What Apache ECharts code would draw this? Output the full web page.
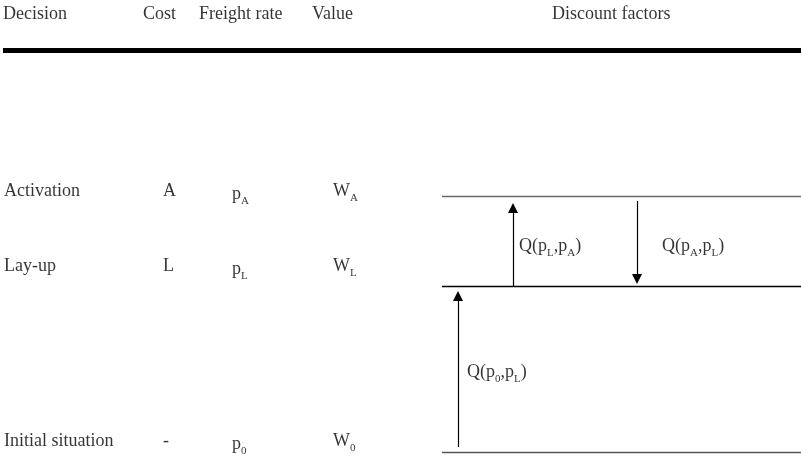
<!DOCTYPE html>
<html><head><meta charset="utf-8">
<script src="https://cdn.jsdelivr.net/npm/echarts@6/dist/echarts.min.js"></script>
<style>html,body{margin:0;padding:0;background:#fff}#c{width:801px;height:463px}</style>
</head><body><div id="c"></div>
<script>
// ---- data ----
const headers = ['Decision', 'Cost', 'Freight rate', 'Value', 'Discount factors'];
const decisions = ['Activation', 'Lay-up', 'Initial situation'];
const costs = ['A', 'L', '-'];
const rateSubs = ['A', 'L', '0'];     // p with subscript
const valueSubs = ['A', 'L', '0'];    // W with subscript
// discount factors: Q(p_from, p_to)
const factorFrom = ['L', 'A', '0'];
const factorTo = ['A', 'L', 'L'];

// ---- layout (positions in canvas units) ----
const FONT = '"Liberation Serif", "Times New Roman", serif';
const headerX = [3, 143, 199, 312, 552];
const headerY = 16;
const colX = [4, 163, 232, 333];
const rowY = [193, 268, 443];
const levelY = [196, 286, 452];
const levelX0 = 442, levelX1 = 801;
const levelColors = ['#6b6b6b', '#000', '#555'];
const arrowX = [513, 637, 458];
// arrow start / end (tip) in canvas units
const arrowStart = [286, 201, 447];
const arrowTip = [203, 284, 291];
const factorLabelPos = [[519, 248], [662, 248], [467, 374]];

const rich = {
  n: { fontFamily: FONT, fontSize: 18, color: '#000', lineHeight: 22, verticalAlign: 'top' },
  s: { fontFamily: FONT, fontSize: 11, color: '#000', lineHeight: 8, verticalAlign: 'bottom' }
};
const sub = (b, s) => `{n|${b}}{s|${s}}`;

const textItems = [];
headers.forEach((h, i) => textItems.push({ value: [headerX[i], headerY], t: `{n|${h}}` }));
decisions.forEach((d, i) => {
  textItems.push({ value: [colX[0], rowY[i]], t: `{n|${d}}` });
  textItems.push({ value: [colX[1], rowY[i]], t: `{n|${costs[i]}}` });
  textItems.push({ value: [colX[2], rowY[i] + 3], t: sub('p', rateSubs[i]) });
  textItems.push({ value: [colX[3], rowY[i]], t: sub('W', valueSubs[i]) });
});
factorFrom.forEach((f, i) => {
  textItems.push({
    value: factorLabelPos[i],
    t: `{n|Q(p}{s|${f}}{n|,p}{s|${factorTo[i]}}{n|)}`
  });
});

const levelLines = levelY.map((y, i) => ({
  coords: [[levelX0, y], [levelX1, y]],
  lineStyle: { color: levelColors[i], width: 1.3 }
}));
const HEAD = 10;
const arrows = arrowX.map((x, i) => {
  const dir = arrowTip[i] < arrowStart[i] ? -1 : 1;
  return { coords: [[x, arrowStart[i]], [x, arrowTip[i] - dir * HEAD / 2]] };
});

const chart = echarts.init(document.getElementById('c'), null, { renderer: 'canvas' });
chart.setOption({
  animation: false,
  backgroundColor: '#fff',
  grid: { left: 0, right: 0, top: 0, bottom: 0 },
  xAxis: { type: 'value', min: 0, max: 801, show: false },
  yAxis: { type: 'value', min: 0, max: 463, inverse: true, show: false },
  series: [
    {
      type: 'lines', coordinateSystem: 'cartesian2d', silent: true,
      data: [{ coords: [[3, 50.5], [801, 50.5]] }],
      lineStyle: { color: '#000', width: 5, opacity: 1 }
    },
    {
      type: 'lines', coordinateSystem: 'cartesian2d', silent: true,
      data: levelLines, lineStyle: { opacity: 1 }
    },
    {
      type: 'lines', coordinateSystem: 'cartesian2d', silent: true,
      data: arrows,
      symbol: ['none', 'triangle'], symbolSize: [0, HEAD],
      lineStyle: { color: '#000', width: 1.2, opacity: 1 },
      itemStyle: { color: '#000' }
    },
    {
      type: 'scatter', silent: true, symbolSize: 0,
      data: textItems,
      label: {
        show: true, position: 'right', distance: 0,
        formatter: p => p.data.t, rich: rich
      }
    }
  ]
});
</script></body></html>
